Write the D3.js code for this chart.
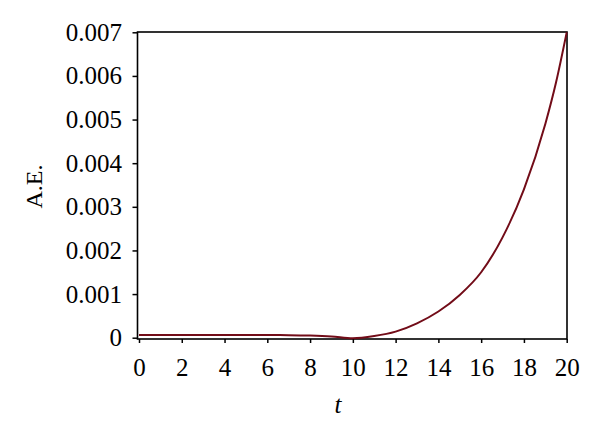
<!DOCTYPE html>
<html>
<head>
<meta charset="utf-8">
<title>A.E. vs t</title>
<script src="https://cdn.jsdelivr.net/npm/d3@7"></script>
<style>
  body { margin: 0; background: #fff; }
  svg { display: block; }
  text { font-family: "Liberation Serif", "Times New Roman", serif; }
</style>
</head>
<body>
<div id="chart"></div>
<script>
// curve
var tValues = [0, 1, 2, 3, 4, 5, 6, 7, 8, 9, 10, 11, 12, 13, 14, 15, 16, 17, 18, 19, 19.5, 20];
var aeValues = [0.00006, 0.00006, 0.00006, 0.00006, 0.00006, 0.00006, 0.00006, 0.000058, 0.00005, 0.00003,
                -0.00001, 0.00004, 0.00014, 0.00033, 0.0006, 0.00098, 0.0015, 0.0023, 0.0034, 0.0049, 0.00585, 0.007];

var xTicks = [0, 2, 4, 6, 8, 10, 12, 14, 16, 18, 20];
var yTicks = [0, 0.001, 0.002, 0.003, 0.004, 0.005, 0.006, 0.007];
var yTickLabels = ["0", "0.001", "0.002", "0.003", "0.004", "0.005", "0.006", "0.007"];

var width = 600, height = 442;
var frame = {left: 137.5, right: 567, top: 32, bottom: 339};

var svg = d3.select("#chart").append("svg")
  .attr("width", width)
  .attr("height", height);

var x = d3.scaleLinear().domain([0, 20]).range([139, 566.7]);
var y = d3.scaleLinear().domain([0, 0.007]).range([337.7, 32.3]);

// y axis
var yAxis = svg.append("g")
  .attr("transform", `translate(${frame.left},0)`)
  .call(d3.axisLeft(y)
    .tickValues(yTicks)
    .tickFormat(function (d, i) { return yTickLabels[i]; })
    .tickSize(5)
    .tickSizeOuter(0)
    .tickPadding(10.5));
yAxis.select(".domain").remove();
yAxis.selectAll("line").attr("stroke", "#000").attr("stroke-width", 1.5);
yAxis.selectAll("text")
  .attr("fill", "#000")
  .style("font-size", "25px")
  .style("font-family", "'Liberation Serif', serif");

// x axis
var xAxis = svg.append("g")
  .attr("transform", `translate(0,${frame.bottom})`)
  .call(d3.axisBottom(x)
    .tickValues(xTicks)
    .tickSize(4)
    .tickSizeOuter(0)
    .tickPadding(15.5));
xAxis.select(".domain").remove();
xAxis.selectAll("line").attr("stroke", "#000").attr("stroke-width", 1.5);
xAxis.selectAll("text")
  .attr("fill", "#000")
  .style("font-size", "25px")
  .style("font-family", "'Liberation Serif', serif");

// frame
svg.append("rect")
  .attr("x", frame.left)
  .attr("y", frame.top)
  .attr("width", frame.right - frame.left)
  .attr("height", frame.bottom - frame.top)
  .attr("fill", "none")
  .attr("stroke", "#000")
  .attr("stroke-width", 1.6);

// the curve
var data = tValues.map(function (t, i) { return {t: t, v: aeValues[i]}; });
var line = d3.line()
  .x(function (d) { return x(d.t); })
  .y(function (d) { return y(d.v); })
  .curve(d3.curveMonotoneX);

svg.append("path")
  .datum(data)
  .attr("d", line)
  .attr("fill", "none")
  .attr("stroke", "#720c18")
  .attr("stroke-width", 2);

// axis titles
svg.append("text")
  .attr("x", 338)
  .attr("y", 413)
  .attr("text-anchor", "middle")
  .style("font-size", "25px")
  .style("font-style", "italic")
  .text("t");

svg.append("text")
  .attr("transform", "translate(42,186.5) rotate(-90)")
  .attr("text-anchor", "middle")
  .style("font-size", "24px")
  .text("A.E.");
</script>
</body>
</html>
